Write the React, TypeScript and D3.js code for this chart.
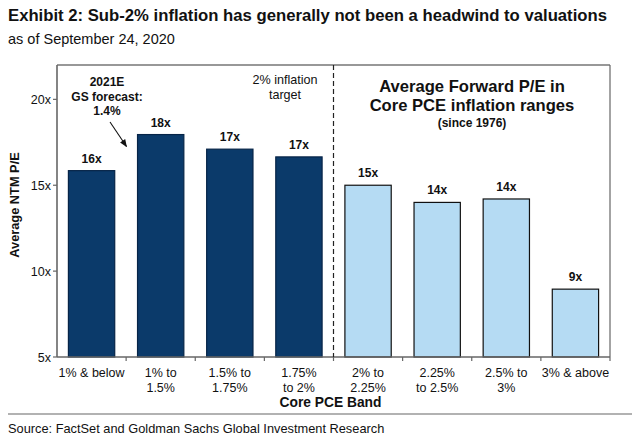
import React from "react";
import * as d3 from "d3";

const categories = ["1% & below", "1% to 1.5%", "1.5% to 1.75%", "1.75% to 2%", "2% to 2.25%", "2.25% to 2.5%", "2.5% to 3%", "3% & above"];
const categoryLines = [["1% & below"], ["1% to", "1.5%"], ["1.5% to", "1.75%"], ["1.75%", "to 2%"], ["2% to", "2.25%"], ["2.25%", "to 2.5%"], ["2.5% to", "3%"], ["3% & above"]];
const peValues = [15.85, 17.95, 17.1, 16.65, 15.0, 14.0, 14.2, 8.95];
const valueLabels = ["16x", "18x", "17x", "17x", "15x", "14x", "14x", "9x"];
const isBelowTarget = [true, true, true, true, false, false, false, false];
const yTicks = [5, 10, 15, 20];

const W = 640, H = 442;
const M = { left: 57, right: 610, top: 65, bottom: 357 };
const FONT = "'Liberation Sans', Arial, sans-serif";
const DARK = "#0b3a6a";
const LIGHT = "#b5dbf3";

export default function App() {
  const x = d3.scaleBand<string>().domain(categories).range([M.left, M.right]).paddingInner(0.33).paddingOuter(0.165);
  const y = d3.scaleLinear().domain([5, 22]).range([M.bottom, M.top]);
  const boundaries = d3.range(1, categories.length).map((i) => M.left + (M.right - M.left) * i / categories.length);
  const dashX = boundaries[3];

  return (
    <svg width={W} height={H} style={{ position: "absolute", left: 0, top: 0, background: "#fff" }} fontFamily={FONT}>
      <defs>
        <marker id="arr" viewBox="0 0 10 10" refX="9" refY="5" markerWidth="7" markerHeight="7" orient="auto">
          <path d="M0,1 L10,5 L0,9 z" fill="#111" />
        </marker>
      </defs>
      <text x={8} y={21} fontSize={16.7} fontWeight="bold" fill="#111">Exhibit 2: Sub-2% inflation has generally not been a headwind to valuations</text>
      <text x={8} y={44} fontSize={14.5} fill="#111">as of September 24, 2020</text>

      {/* frame */}
      <line x1={M.left} x2={M.right} y1={M.top} y2={M.top} stroke="#333" strokeWidth={1.2} />
      <line x1={M.right} x2={M.right} y1={M.top} y2={M.bottom} stroke="#666" strokeWidth={1.2} />

      {/* bars */}
      {categories.map((c, i) => (
        <rect key={c} x={x(c)} y={y(peValues[i])} width={x.bandwidth()} height={y(5) - y(peValues[i])}
          fill={isBelowTarget[i] ? DARK : LIGHT} stroke={isBelowTarget[i] ? "#062447" : "#111"} strokeWidth={1.2} />
      ))}
      {categories.map((c, i) => (
        <text key={"v" + c} x={(x(c) as number) + x.bandwidth() / 2} y={y(peValues[i]) - 8} textAnchor="middle" fontSize={12} fontWeight="bold" fill="#111">{valueLabels[i]}</text>
      ))}

      {/* axes */}
      <line x1={M.left} x2={M.left} y1={M.top} y2={M.bottom} stroke="#666" strokeWidth={1.6} />
      <line x1={M.left} x2={M.right} y1={M.bottom} y2={M.bottom} stroke="#666" strokeWidth={1.6} />
      {yTicks.map((t) => (
        <g key={t}>
          <line x1={M.left - 4} x2={M.left} y1={y(t)} y2={y(t)} stroke="#666" strokeWidth={1.2} />
          <text x={M.left - 6} y={y(t) + 4.5} textAnchor="end" fontSize={12.5} fill="#111">{t}x</text>
        </g>
      ))}
      {boundaries.concat([M.right]).map((bx, i) => (
        <line key={"xt" + i} x1={bx} x2={bx} y1={M.bottom} y2={M.bottom + 4} stroke="#666" strokeWidth={1.2} />
      ))}
      {categories.map((c, i) => (
        <text key={"xl" + c} x={(x(c) as number) + x.bandwidth() / 2} y={377} textAnchor="middle" fontSize={12.5} fill="#111">
          {categoryLines[i].map((l, j) => (
            <tspan key={j} x={(x(c) as number) + x.bandwidth() / 2} dy={j === 0 ? 0 : 15}>{l}</tspan>
          ))}
        </text>
      ))}
      <text x={dashX - 3} y={407} textAnchor="middle" fontSize={13.8} fontWeight="bold" fill="#111">Core PCE Band</text>
      <text transform={`translate(19,205) rotate(-90)`} textAnchor="middle" fontSize={12.8} fontWeight="bold" fill="#111">Average NTM P/E</text>

      {/* dashed 2% line */}
      <line x1={dashX} x2={dashX} y1={M.top} y2={M.bottom} stroke="#222" strokeWidth={1.2} strokeDasharray="5,3" />

      {/* annotations */}
      <g fontSize={12} fontWeight="bold" fill="#111" textAnchor="middle">
        <text x={107} y={86}>2021E</text>
        <text x={107} y={101}>GS forecast:</text>
        <text x={107} y={115}>1.4%</text>
      </g>
      <line x1={110} y1={122} x2={126.5} y2={146.5} stroke="#111" strokeWidth={1.1} markerEnd="url(#arr)" />
      <g fontSize={12.6} fill="#111" textAnchor="middle">
        <text x={285} y={84}>2% inflation</text>
        <text x={285} y={99}>target</text>
      </g>
      <g fontWeight="bold" fill="#111" textAnchor="middle">
        <text x={472} y={92} fontSize={16.6}>Average Forward P/E in</text>
        <text x={472} y={111} fontSize={16.6}>Core PCE inflation ranges</text>
        <text x={472} y={127} fontSize={12}>(since 1976)</text>
      </g>

      {/* footer */}
      <line x1={8} x2={632} y1={414} y2={414} stroke="#999" strokeWidth={1.5} />
      <text x={8} y={433} fontSize={12.8} fill="#111">Source: FactSet and Goldman Sachs Global Investment Research</text>
    </svg>
  );
}
